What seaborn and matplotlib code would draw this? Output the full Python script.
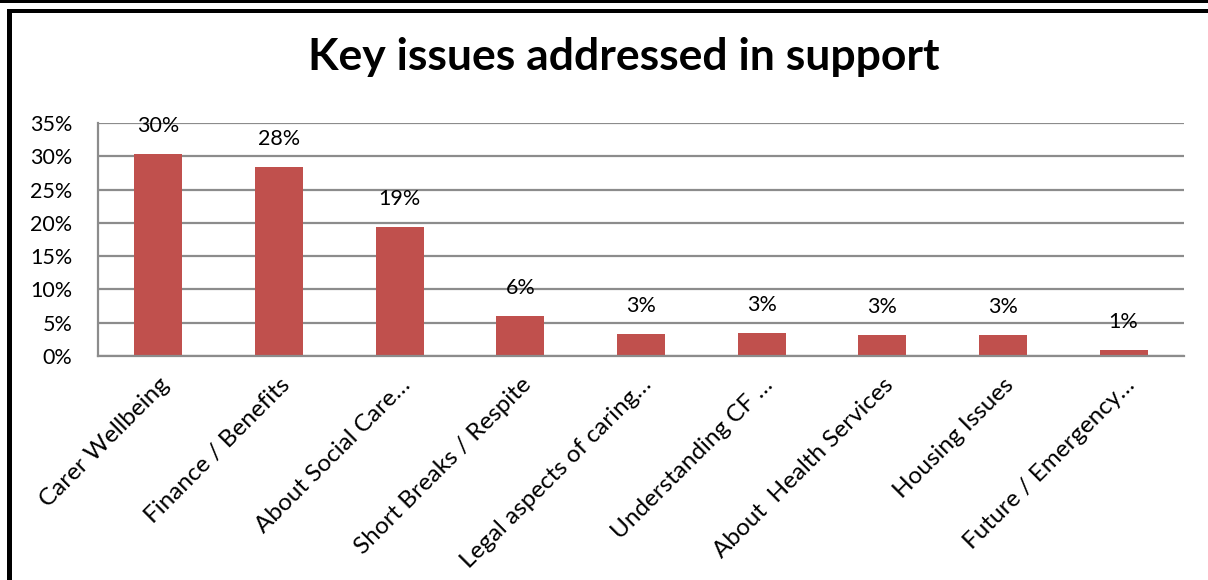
import numpy as np
import matplotlib
matplotlib.use('Agg')
import matplotlib.pyplot as plt
from matplotlib.patches import Rectangle
from matplotlib.ticker import FixedLocator
import seaborn as sns
import pandas as pd

categories = ['Carer Wellbeing', 'Finance / Benefits', 'About Social Care…',
              'Short Breaks / Respite', 'Legal aspects of caring…',
              'Understanding CF …', 'About  Health Services',
              'Housing Issues', 'Future / Emergency…']
values = [30.4, 28.4, 19.4, 6.05, 3.25, 3.45, 3.15, 3.15, 0.85]
yticks = [0, 5, 10, 15, 20, 25, 30, 35]
title = 'Key issues addressed in support'

W, H = 1208, 580
BAR = '#C0504D'
GRID = '#8c8c8c'

sns.set_style('white')
plt.rcParams['font.family'] = ['Lato', 'DejaVu Sans']

fig = plt.figure(figsize=(W / 100, H / 100), dpi=100)
ax = fig.add_axes([98 / W, 1 - 356 / H, (1184 - 98) / W, (356 - 123) / H])

df = pd.DataFrame({'issue': categories, 'share': values})
sns.barplot(data=df, x='issue', y='share', color=BAR, width=0.4,
            saturation=1, ax=ax, edgecolor='none')

ax.set_xlim(-0.5, len(categories) - 0.5)
ax.set_ylim(0, 35)
ax.set_yticks(yticks)
ax.set_yticklabels([f'{t}%' for t in yticks], fontsize=15.5, color='black')
ax.yaxis.grid(True, color=GRID, linewidth=1.6)
ax.set_axisbelow(True)

# category boundaries carry the tick marks, labels sit at bar centres
ax.xaxis.set_minor_locator(FixedLocator(np.arange(-0.5, len(categories), 1.0)))
ax.tick_params(axis='x', which='major', length=0, pad=13)
ax.tick_params(axis='x', which='minor', length=7, width=1.6, color=GRID, direction='out')
ax.tick_params(axis='y', length=6.5, width=1.6, color=GRID, direction='out', pad=12)
ax.set_xticks(range(len(categories)))
ax.set_xticklabels(categories, rotation=45, ha='right', rotation_mode='anchor',
                   fontsize=17.5, color='black')

for s in ['top', 'right']:
    ax.spines[s].set_visible(False)
for s in ['left', 'bottom']:
    ax.spines[s].set_color(GRID)
    ax.spines[s].set_linewidth(1.6)

ax.set_xlabel('')
ax.set_ylabel('')

ax.bar_label(ax.containers[0], fmt='{:.0f}%', padding=13, fontsize=15.5, color='black')

fig.text(624 / W, 1 - 57 / H, title, ha='center', va='center',
         fontsize=32, fontweight='bold', color='black')

# frame lines of the original screenshot
def px_rect(x0, y0, x1, y1):
    fig.add_artist(Rectangle((x0 / W, 1 - y1 / H), (x1 - x0) / W, (y1 - y0) / H,
                             transform=fig.transFigure, facecolor='black',
                             edgecolor='none'))

px_rect(0, 0, W, 3)
px_rect(7, 9, W, 13)
px_rect(7, 9, 12, H)

fig.savefig('out.png', dpi=100, facecolor='white')
